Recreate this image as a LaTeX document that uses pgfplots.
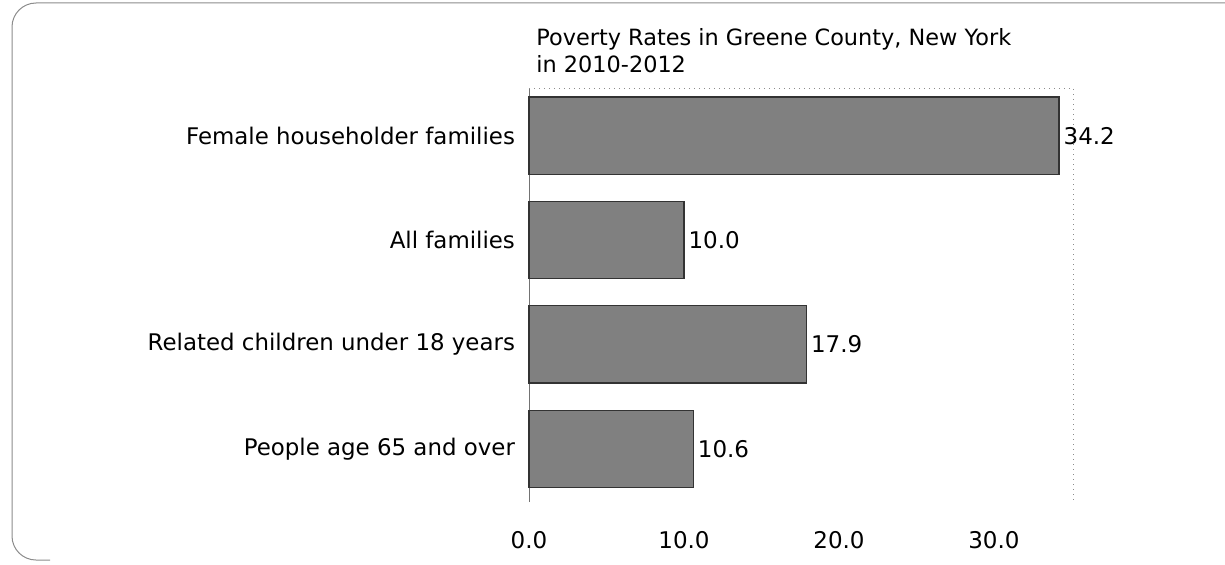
\documentclass[border=0pt]{standalone}
\usepackage{pgfplots}
\pgfplotsset{compat=1.18}
\usepackage{fontspec}
\setmainfont{DejaVu Sans}
\pgfplotstableread{
y val
0 10.6
1 17.9
2 10.0
3 34.2
}\povdata
\begin{document}
\begin{tikzpicture}
\path[use as bounding box] (0,0) rectangle (612.5pt,282pt);
\draw[black!45, line width=0.5pt, rounded corners=12pt] (620pt,280.5pt) -- (6pt,280.5pt) -- (6pt,2pt) -- (25pt,2pt);
\node[anchor=base west, inner sep=0pt, font=\fontsize{11.2}{13}\selectfont] at (268pt,259.5pt) {Poverty Rates in Greene County, New York};
\node[anchor=base west, inner sep=0pt, font=\fontsize{11.2}{13}\selectfont] at (268pt,246pt) {in 2010-2012};
\begin{axis}[
  anchor=south west, at={(264.5pt,31pt)},
  scale only axis, width=272pt, height=207pt,
  xbar, bar width=0.74,
  xmin=0, xmax=35.1, ymin=-0.51, ymax=3.457,
  ytick={0,1,2,3},
  yticklabels={People age 65 and over, Related children under 18 years, All families, Female householder families},
  xtick={0,10,20,30},
  axis line style={draw=none},
  major tick length=0pt,
  /pgf/number format/assume math mode=true,
  xticklabel={\pgfmathprintnumber[fixed,precision=1,zerofill]{\tick}},
  xticklabel style={font=\fontsize{11.5}{12}\selectfont, yshift=-11pt},
  yticklabel style={font=\fontsize{11.45}{13}\selectfont, anchor=east, xshift=-3.5pt},
  point meta=x,
  nodes near coords={\pgfmathprintnumber[fixed,precision=1,zerofill]{\pgfplotspointmeta}},
  every node near coord/.append style={font=\fontsize{11.5}{12}\selectfont, anchor=west, inner sep=2pt},
  clip=false,
]
\draw[black!55, line width=0.5pt] (rel axis cs:0,0) -- (rel axis cs:0,1);
\draw[black!45, dotted, line width=0.5pt] (rel axis cs:0,1) -- (rel axis cs:1,1) -- (rel axis cs:1,0);
\addplot[fill=black!50, draw=black!80, line width=0.6pt] table[x=val, y=y] {\povdata};
\end{axis}
\end{tikzpicture}
\end{document}
